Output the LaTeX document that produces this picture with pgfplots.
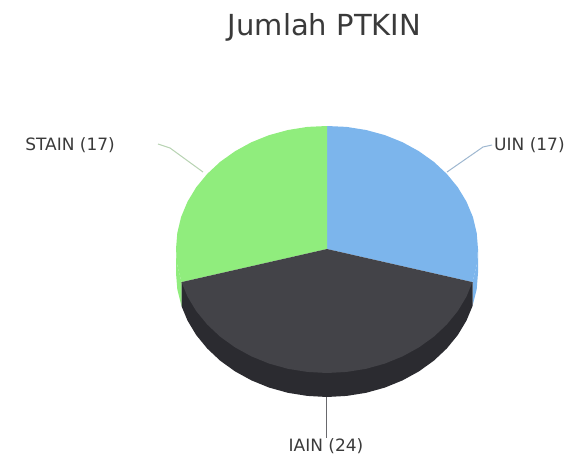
\documentclass[border=0pt]{standalone}
\usepackage{fontspec}
\setmainfont{DejaVu Sans}
\usepackage{pgfplots}
\pgfplotsset{compat=1.18}

\definecolor{uin}{HTML}{7CB5EC}
\definecolor{iain}{HTML}{434348}
\definecolor{stain}{HTML}{90ED7D}
\definecolor{iainside}{HTML}{2B2B30}
\definecolor{txt}{HTML}{3A3A3A}

\begin{document}
\begin{tikzpicture}[x=1pt,y=1pt]
  % axis units are the reference's pixels, y running downwards
  \begin{axis}[
      scale only axis,
      width=565pt,
      height=456pt,
      xmin=0, xmax=565,
      ymin=0, ymax=456,
      y dir=reverse,
      hide axis,
      clip=false
    ]
    \path (axis cs:0,0) rectangle (axis cs:565,456);

    %% connectors
    \addplot[color=uin!60!gray!75!white,line width=1pt] coordinates{
      (447,172) (483,147) (492,145)
    };
    \addplot[color=stain!50!gray!60!white,line width=1pt] coordinates{
      (203,172) (170,148) (158,144)
    };
    \addplot[color=iain!80!white,line width=1.2pt] coordinates{
      (326.5,397) (326.5,438)
    };

    %% side walls
    \addplot[fill=uin,draw=none] coordinates{
      (478,249) (476.7,265.2) (472.5,282.1)
      (472.5,306.1) (476.7,289.2) (478,273)
    };
    \addplot[fill=stain,draw=none] coordinates{
      (176,249) (177.3,265.2) (181.5,282.1)
      (181.5,306.1) (177.3,289.2) (176,273)
    };
    \addplot[fill=iainside,draw=none] coordinates{
      (472.5,282.1) (472.5,306.1) (466.5,320.5) (457.8,335) (446.8,348.5)
      (433.8,360.7) (418.9,371.4) (402.5,380.4) (384.8,387.6) (366.1,392.8)
      (346.7,395.9) (327,397) (307.3,395.9) (287.9,392.8) (269.2,387.6)
      (251.5,380.4) (235.1,371.4) (220.2,360.7) (207.2,348.5) (196.2,335)
      (187.5,320.5) (181.5,306.1) (181.5,282.1)
    };

    %% top faces
    %% UIN 17
    \addplot[fill=uin,draw=none] coordinates{
      (327,249) (327,126) (346.7,126.9) (366.1,130) (384.8,135.1)
      (402.5,142.2) (418.9,151.2) (433.8,161.8) (446.8,173.9) (457.8,187.3)
      (466.5,201.7) (472.9,217) (476.7,232.9) (478,249) (476.7,265.2)
      (472.5,282.1)
    };
    %% STAIN 17
    \addplot[fill=stain,draw=none] coordinates{
      (327,249) (181.5,282.1) (177.3,265.2) (176,249) (177.3,232.9)
      (181.1,217) (187.5,201.7) (196.2,187.3) (207.2,173.9) (220.2,161.8)
      (235.1,151.2) (251.5,142.2) (269.2,135.1) (287.9,130) (307.3,126.9)
      (327,126)
    };
    %% IAIN 24
    \addplot[fill=iain,draw=none] coordinates{
      (327,249) (472.5,282.1) (466.5,296.5) (457.8,311) (446.8,324.5)
      (433.8,336.7) (418.9,347.4) (402.5,356.4) (384.8,363.6) (366.1,368.8)
      (346.7,371.9) (327,373) (307.3,371.9) (287.9,368.8) (269.2,363.6)
      (251.5,356.4) (235.1,347.4) (220.2,336.7) (207.2,324.5) (196.2,311)
      (187.5,296.5) (181.5,282.1)
    };

    \node[text=txt,inner sep=0pt,font=\fontsize{29}{34}\selectfont] at (axis cs:324.5,27) {Jumlah PTKIN};
    \node[text=txt,inner sep=0pt,font=\fontsize{17}{20}\selectfont,anchor=west] at (axis cs:494,145) {UIN (17)};
    \node[text=txt,inner sep=0pt,font=\fontsize{17}{20}\selectfont,anchor=east] at (axis cs:115,145) {STAIN (17)};
    \node[text=txt,inner sep=0pt,font=\fontsize{17}{20}\selectfont] at (axis cs:326,446) {IAIN (24)};
  \end{axis}
\end{tikzpicture}
\end{document}
